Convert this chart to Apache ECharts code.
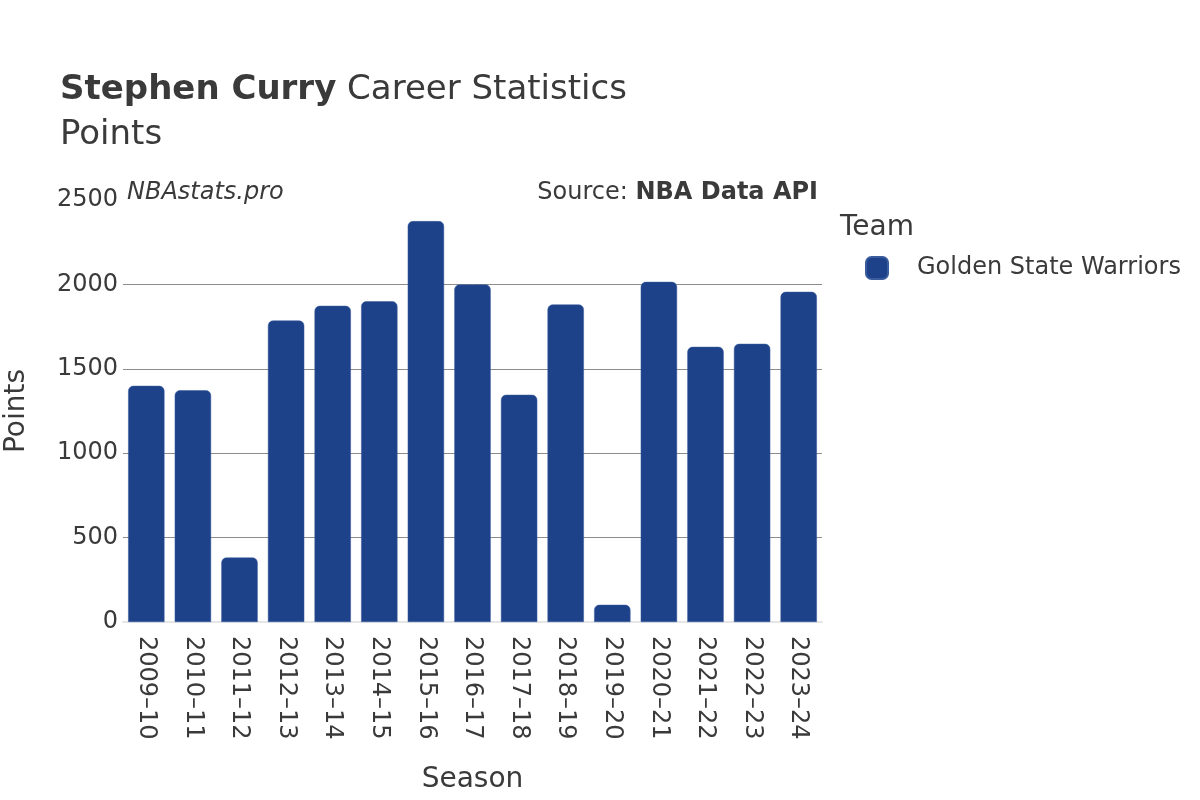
<!DOCTYPE html>
<html>
<head>
<meta charset="utf-8">
<script src="https://cdn.jsdelivr.net/npm/echarts@6/dist/echarts.min.js"></script>
<style>
  html, body { margin: 0; padding: 0; background: #fff; }
  #main { width: 1200px; height: 800px; }
</style>
</head>
<body>
<div id="main"></div>
<script>
const seasons = ["2009–10", "2010–11", "2011–12", "2012–13", "2013–14", "2014–15", "2015–16",
  "2016–17", "2017–18", "2018–19", "2019–20", "2020–21", "2021–22", "2022–23", "2023–24"];
const points = [1399, 1373, 382, 1786, 1873, 1900, 2375, 1999, 1346, 1881, 102, 2015, 1630, 1648, 1956];
const teamName = "Golden State Warriors";

const font = "DejaVu Sans";
const textColor = "#3a3a3a";

const chart = echarts.init(document.getElementById("main"), null, { renderer: "canvas" });

const option = {
  backgroundColor: "#fff",
  textStyle: { fontFamily: font },
  animation: false,
  graphic: [
    {
      type: "text",
      left: 60,
      top: 68,
      style: {
        text: "{b|Stephen Curry} Career Statistics\nPoints",
        rich: {
          b: { fontWeight: "bold", fontSize: 34, fontFamily: font, fill: textColor }
        },
        fontSize: 34,
        lineHeight: 45,
        fontFamily: font,
        fill: textColor
      }
    },
    {
      type: "text",
      left: 127,
      top: 181,
      style: { text: "NBAstats.pro", fontStyle: "italic", fontSize: 24, fontFamily: font, fill: textColor }
    },
    {
      type: "text",
      right: 382,
      top: 181,
      style: { text: "{n|Source: }{b|NBA Data API}", fontSize: 24, fontFamily: font, fill: textColor,
        rich: {
          n: { fontSize: 24, fontFamily: font, fill: textColor },
          b: { fontSize: 24, fontFamily: font, fill: textColor, fontWeight: "bold" }
        } }
    },
    {
      type: "text",
      left: 840,
      top: 214,
      style: { text: "Team", fontSize: 28, fontFamily: font, fill: textColor }
    }
  ],
  legend: {
    left: 865,
    top: 256,
    padding: 0,
    orient: "vertical",
    icon: "roundRect",
    itemWidth: 22,
    itemHeight: 22,
    data: [teamName],
    textStyle: { fontSize: 24, color: textColor, fontFamily: font, padding: [0, 0, 0, 24] }
  },
  grid: {
    left: 123,
    right: 378,
    top: 200,
    bottom: 178,
    containLabel: false,
    outerBoundsMode: "none"
  },
  xAxis: {
    type: "category",
    data: seasons,
    name: "Season",
    nameLocation: "middle",
    nameGap: 144,
    nameTextStyle: { fontSize: 28, color: textColor, fontFamily: font },
    axisLine: { show: true, lineStyle: { color: "#e6e6e6", width: 2 } },
    axisTick: { show: false },
    axisLabel: { rotate: -90, fontSize: 24, color: textColor, margin: 14, fontFamily: font }
  },
  yAxis: {
    type: "value",
    min: 0,
    max: 2500,
    interval: 500,
    name: "Points",
    nameLocation: "middle",
    nameGap: 92,
    nameTextStyle: { fontSize: 28, color: textColor, fontFamily: font },
    axisLine: { show: false },
    axisTick: { show: false },
    axisLabel: { fontSize: 24, color: textColor, margin: 5, fontFamily: font, formatter: (v) => String(v) },
    splitLine: { showMaxLine: false, lineStyle: { color: "#8c8c8c", width: 1 } }
  },
  series: [
    {
      name: teamName,
      type: "bar",
      data: points,
      barCategoryGap: "22%",
      itemStyle: {
        color: "#1D428A",
        borderColor: "#3a5c9c",
        borderWidth: 0.5,
        borderRadius: [5, 5, 0, 0]
      }
    }
  ]
};

chart.setOption(option);
</script>
</body>
</html>
